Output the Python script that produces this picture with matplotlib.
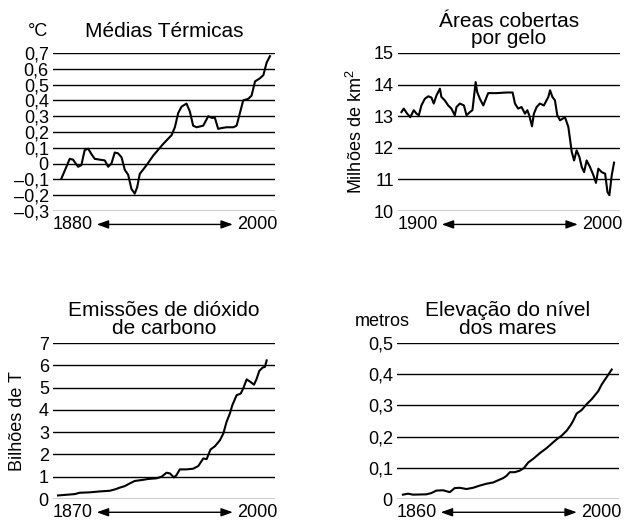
import matplotlib
matplotlib.use("Agg")
import matplotlib.pyplot as plt

plt.rcParams["font.family"] = ["Liberation Sans", "DejaVu Sans"]
plt.rcParams["mathtext.fontset"] = "custom"
plt.rcParams["mathtext.rm"] = "Liberation Sans"
plt.rcParams["mathtext.it"] = "Liberation Sans"

# Médias Térmicas (°C)
temp_years = [1880, 1882.9, 1884.8, 1886.7, 1889.6, 1891.5, 1893.4, 1895.4, 1897.3, 1899.2,
              1902.1, 1905.0, 1906.9, 1908.8, 1910.7, 1912.6, 1914.6, 1916.5, 1918.4, 1920.3,
              1922.2, 1923.6, 1925.1, 1929.0, 1932.8, 1938.6, 1943.4, 1945.3, 1947.2, 1949.1,
              1952.0, 1953.9, 1955.8, 1957.8, 1961.6, 1964.5, 1966.4, 1968.3, 1970.2, 1972.2,
              1975.0, 1978.9, 1980.8, 1982.7, 1984.6, 1987.5, 1989.4, 1991.4, 1994.2, 1996.2,
              1998.1, 2000]
temp_vals = [-0.095, -0.02, 0.03, 0.025, -0.02, -0.01, 0.085, 0.095, 0.06, 0.03,
             0.025, 0.02, -0.02, 0.0, 0.07, 0.065, 0.04, -0.04, -0.07, -0.16,
             -0.19, -0.15, -0.065, -0.01, 0.05, 0.125, 0.18, 0.23, 0.32, 0.36,
             0.38, 0.33, 0.24, 0.23, 0.24, 0.30, 0.29, 0.29, 0.22, 0.225,
             0.23, 0.23, 0.24, 0.32, 0.40, 0.41, 0.43, 0.52, 0.54, 0.56,
             0.64, 0.68]
temp_ticks = [-0.3, -0.2, -0.1, 0, 0.1, 0.2, 0.3, 0.4, 0.5, 0.6, 0.7]
temp_labels = ["\u20130,3", "\u20130,2", "\u20130,1", "0", "0,1", "0,2", "0,3",
               "0,4", "0,5", "0,6", "0,7"]

# Áreas cobertas por gelo (milhões de km²)
ice_years = [1900.0, 1901.1, 1902.7, 1904.2, 1905.8, 1907.1, 1908.2, 1909.4, 1911.0, 1912.6,
             1914.1, 1915.2, 1916.5, 1918.1, 1918.8, 1920.4, 1922.0, 1923.5, 1925.1, 1925.9,
             1927.5, 1929.4, 1930.6, 1932.2, 1933.4, 1934.2, 1934.9, 1935.6, 1936.9, 1938.5,
             1940.8, 1944.7, 1949.5, 1952.3, 1953.4, 1954.9, 1956.5, 1958.1, 1959.2, 1960.1,
             1961.4, 1962.3, 1963.6, 1965.1, 1967.0, 1969.1, 1969.9, 1971.0, 1972.2, 1973.3,
             1974.6, 1975.8, 1976.9, 1978.5, 1980.1, 1981.2, 1982.4, 1983.7, 1984.8, 1985.9,
             1987.1, 1988.7, 1990.3, 1991.5, 1992.6, 1994.2, 1995.8, 1996.9, 1997.8, 1998.9,
             2000.0]
ice_vals = [13.13, 13.24, 13.08, 12.97, 13.19, 13.08, 13.03, 13.34, 13.55, 13.63,
            13.59, 13.40, 13.66, 13.87, 13.61, 13.50, 13.34, 13.24, 13.03, 13.29,
            13.40, 13.34, 13.03, 13.13, 13.19, 13.66, 14.08, 13.77, 13.55, 13.34,
            13.73, 13.73, 13.75, 13.75, 13.40, 13.24, 13.29, 13.08, 13.19, 13.03,
            12.68, 13.08, 13.29, 13.40, 13.34, 13.61, 13.82, 13.61, 13.50, 13.03,
            12.87, 12.92, 12.97, 12.66, 11.87, 11.60, 11.92, 11.71, 11.39, 11.23,
            11.60, 11.39, 11.13, 10.89, 11.34, 11.23, 11.18, 10.60, 10.50, 11.13,
            11.53]
ice_ticks = [10, 11, 12, 13, 14, 15]

# Emissões de dióxido de carbono (bilhões de T)
co2_years = [1870, 1875.2, 1880.4, 1883.5, 1889.8, 1896.0, 1902.2, 1905.4, 1908.5, 1911.6,
             1914.7, 1917.8, 1922.0, 1926.2, 1931.4, 1934.5, 1937.6, 1939.7, 1942.2, 1943.8,
             1945.9, 1950.1, 1954.2, 1957.4, 1960.5, 1962.6, 1965.0, 1967.8, 1970.9, 1973.0,
             1975.0, 1977.1, 1978.6, 1981.3, 1983.8, 1985.4, 1987.5, 1990.0, 1992.1, 1993.8,
             1995.4, 1997.5, 1998.9, 2000]
co2_vals = [0.16, 0.19, 0.22, 0.28, 0.30, 0.34, 0.37, 0.43, 0.51, 0.58,
            0.70, 0.81, 0.85, 0.90, 0.93, 1.00, 1.18, 1.15, 0.97, 1.07,
            1.33, 1.33, 1.36, 1.48, 1.82, 1.79, 2.22, 2.37, 2.64, 2.94,
            3.46, 3.84, 4.21, 4.66, 4.73, 4.96, 5.37, 5.25, 5.13, 5.40,
            5.75, 5.90, 5.93, 6.22]
co2_ticks = [0, 1, 2, 3, 4, 5, 6, 7]

# Elevação do nível dos mares (metros)
sea_years = [1860, 1863.4, 1866.7, 1875.7, 1879.0, 1882.4, 1886.9, 1891.4, 1894.7, 1898.1,
             1902.6, 1907.0, 1911.5, 1916.0, 1920.5, 1923.8, 1927.2, 1929.4, 1931.7, 1935.0,
             1938.4, 1941.1, 1944.0, 1947.4, 1951.8, 1956.3, 1960.8, 1963.5, 1966.4, 1969.8,
             1972.5, 1974.2, 1976.5, 1979.8, 1983.2, 1986.6, 1988.8, 1991.0, 1993.3, 1995.5,
             1997.8, 2000]
sea_vals = [0.014, 0.017, 0.014, 0.015, 0.019, 0.027, 0.028, 0.022, 0.035, 0.036,
            0.032, 0.036, 0.043, 0.049, 0.053, 0.060, 0.067, 0.074, 0.086, 0.086,
            0.091, 0.099, 0.117, 0.129, 0.147, 0.163, 0.182, 0.193, 0.203, 0.219,
            0.237, 0.251, 0.274, 0.285, 0.304, 0.320, 0.333, 0.346, 0.367, 0.383,
            0.399, 0.415]
sea_ticks = [0, 0.1, 0.2, 0.3, 0.4, 0.5]
sea_labels = ["0", "0,1", "0,2", "0,3", "0,4", "0,5"]

FS = 13
TITLE_FS = 15

fig = plt.figure(figsize=(6.35, 5.21), dpi=100)


def panel(rect, years, vals, ticks, labels, xlim, start, end, title, title_y):
    ax = fig.add_axes(rect)
    ax.plot(years, vals, color="black", lw=1.5)
    ax.set_xlim(*xlim)
    ax.set_ylim(ticks[0], ticks[-1])
    ax.set_yticks(ticks)
    ax.set_yticklabels(labels, fontsize=FS)
    ax.set_xticks([])
    ax.tick_params(axis="y", length=0, pad=3)
    for s in ax.spines.values():
        s.set_visible(False)
    ax.yaxis.grid(True, color="black", lw=1)
    ax.set_axisbelow(True)
    ax.text(0.0, -0.085, start, transform=ax.transAxes, ha="left", va="center", fontsize=FS)
    ax.text(1.01, -0.085, end, transform=ax.transAxes, ha="right", va="center", fontsize=FS)
    ax.annotate("", xy=(0.81, -0.085), xytext=(0.197, -0.085),
                xycoords="axes fraction", textcoords="axes fraction",
                arrowprops=dict(arrowstyle="<|-|>,head_length=0.7,head_width=0.25",
                                color="black", lw=1, shrinkA=0, shrinkB=0))
    ax.text(0.5, title_y, title, transform=ax.transAxes, ha="center", va="center",
            fontsize=TITLE_FS, linespacing=0.9)
    return ax


ax1 = panel([0.0835, 0.595, 0.3496, 0.3033], temp_years, temp_vals, temp_ticks, temp_labels,
            (1875.2, 2002.9), "1880", "2000", "Médias Térmicas", 1.133)
ax1.text(-0.068, 1.133, "°C", transform=ax1.transAxes, ha="center", va="center", fontsize=FS)

ax2 = panel([0.6268, 0.595, 0.3496, 0.3033], ice_years, ice_vals, ice_ticks,
            [str(t) for t in ice_ticks], (1898.4, 2002.8), "1900", "2000",
            "Áreas cobertas\npor gelo", 1.146)
ax2.set_ylabel("Milhões de km$^{\\mathrm{2}}$", fontsize=FS)
ax2.yaxis.set_label_coords(-0.145, 0.5)

ax3 = panel([0.0835, 0.0422, 0.3496, 0.2994], co2_years, co2_vals, co2_ticks,
            [str(t) for t in co2_ticks], (1866.9, 2005.2), "1870", "2000",
            "Emissões de dióxido\nde carbono", 1.151)
ax3.set_ylabel("Bilhões de T", fontsize=FS)
ax3.yaxis.set_label_coords(-0.12, 0.5)

ax4 = panel([0.6252, 0.0422, 0.3496, 0.2994], sea_years, sea_vals, sea_ticks, sea_labels,
            (1856.0, 2004.9), "1860", "2000", "Elevação do nível\ndos mares", 1.151)
ax4.text(-0.068, 1.141, "metros", transform=ax4.transAxes, ha="center", va="center",
         fontsize=FS)

fig.savefig("out.png", dpi=100)
